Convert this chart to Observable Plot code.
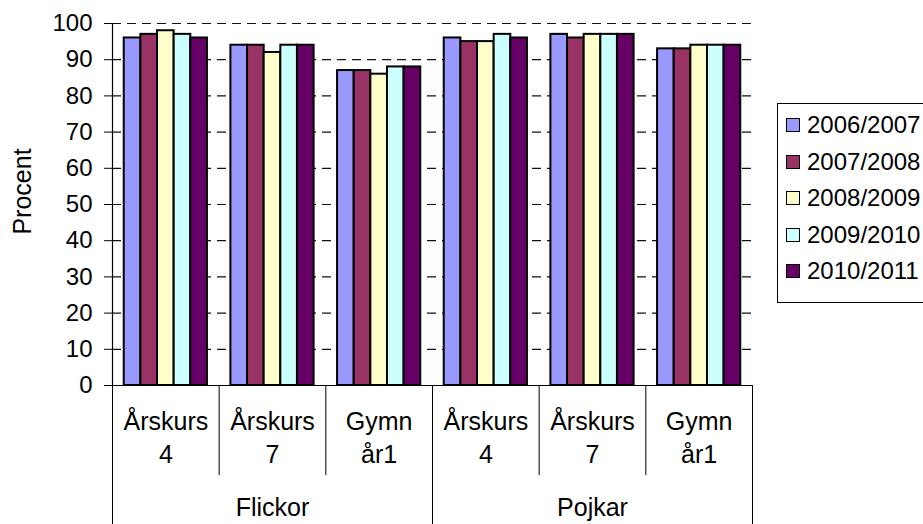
<!DOCTYPE html>
<html>
<head>
<meta charset="utf-8">
<script src="https://cdn.jsdelivr.net/npm/d3@7"></script>
<script src="https://cdn.jsdelivr.net/npm/@observablehq/plot@0.6"></script>
<style>
  html, body { margin: 0; padding: 0; background: #fff; overflow: hidden; width: 923px; height: 524px; }
  #wrap { position: relative; width: 923px; height: 524px; font-family: "Liberation Sans", Arial, sans-serif; }
  #legend { position: absolute; left: 777px; top: 103px; width: 170px; height: 200px; border: 1px solid #000; box-sizing: border-box; background: #fff; }
  .item { position: absolute; left: 8px; height: 28px; display: flex; align-items: center; font-size: 24px; white-space: nowrap; color: #000; }
  .sw { width: 14px; height: 14px; border: 1.5px solid #000; margin-right: 7px; box-sizing: border-box; }
</style>
</head>
<body>
<div id="wrap"><div id="chart"></div><div id="legend"></div></div>
<script>
// ---- data ----
const groups = ["Flickor", "Pojkar"];
const subgroups = ["Årskurs\n4", "Årskurs\n7", "Gymn\når1", "Årskurs\n4", "Årskurs\n7", "Gymn\når1"];
const subgroupParent = [0, 0, 0, 1, 1, 1];
const series = ["2006/2007", "2007/2008", "2008/2009", "2009/2010", "2010/2011"];
const v2006 = [96, 94, 87, 96, 97, 93];
const v2007 = [97, 94, 87, 95, 96, 93];
const v2008 = [98, 92, 86, 95, 97, 94];
const v2009 = [97, 94, 88, 97, 97, 94];
const v2010 = [96, 94, 88, 96, 97, 94];
const colors = ["#9999FF", "#993366", "#FFFFCC", "#CCFFFF", "#660066"];
const yTicks = [0, 10, 20, 30, 40, 50, 60, 70, 80, 90, 100];
const yLabel = "Procent";

// ---- build table ----
const seriesValues = [v2006, v2007, v2008, v2009, v2010];
const rows = [];
seriesValues.forEach((vals, s) => vals.forEach((v, g) => rows.push({g, s, year: series[s], value: v})));
const pad = 0.11, bw = 0.156;
const subRows = subgroups.map((label, i) => ({i, label}));
const groupRows = groups.map((label, k) => {
  const idx = subgroupParent.map((p, i) => p === k ? i : -1).filter(i => i >= 0);
  return {label, start: idx[0], end: idx[idx.length - 1] + 1};
});
const innerSeps = d3.range(1, subgroups.length).filter(i => subgroupParent[i] === subgroupParent[i - 1]);
const outerSeps = [0, ...groupRows.map(d => d.end)];

const chart = Plot.plot({
  width: 923,
  height: 524,
  marginLeft: 112,
  marginRight: 171,
  marginTop: 23,
  marginBottom: 139,
  style: {fontFamily: "'Liberation Sans', Arial, sans-serif", fontSize: "24px", background: "#fff", color: "#000"},
  x: {type: "linear", domain: [0, subgroups.length], axis: null},
  y: {domain: [0, 100], axis: null},
  color: {domain: series, range: colors},
  marks: [
    Plot.ruleY(yTicks.filter(t => t > 0), {stroke: "#111", strokeWidth: 1.2, strokeDasharray: "9,6"}),
    Plot.rectY(rows, {
      x1: d => d.g + pad + d.s * bw,
      x2: d => d.g + pad + (d.s + 1) * bw,
      y1: 0,
      y2: "value",
      fill: "year",
      stroke: "#000",
      strokeWidth: 2
    }),
    Plot.axisY({ticks: yTicks, tickSize: 8, tickPadding: 12, label: null, fontSize: 24}),
    Plot.ruleX([0], {stroke: "#000", strokeWidth: 1.2}),
    Plot.ruleY([0], {stroke: "#000", strokeWidth: 1.2}),
    Plot.ruleX(innerSeps, {x: d => d, y1: d => 0, y2: d => 0, insetBottom: -90, stroke: "#000", strokeWidth: 1}),
    Plot.ruleX(outerSeps, {x: d => d, y1: d => 0, y2: d => 0, insetBottom: -145, stroke: "#000", strokeWidth: 1}),
    Plot.text(subRows, {x: d => d.i + 0.5, y: d => 0, text: "label", lineAnchor: "top", dy: 21, lineHeight: 1.33, fontSize: 25, fill: "#000"}),
    Plot.text(groupRows, {x: d => (d.start + d.end) / 2, y: d => 0, text: "label", lineAnchor: "top", dy: 113, fontSize: 25, fill: "#000"}),
    Plot.text([yLabel], {frameAnchor: "left", textAnchor: "middle", dx: -90, dy: -13, rotate: -90, fontSize: 25, fill: "#000"})
  ]
});
document.getElementById("chart").appendChild(chart);

// ---- legend ----
const legend = document.getElementById("legend");
series.forEach((name, i) => {
  const item = document.createElement("div");
  item.className = "item";
  item.style.top = (7 + i * 36.5) + "px";
  const sw = document.createElement("span");
  sw.className = "sw";
  sw.style.background = colors[i];
  item.appendChild(sw);
  item.appendChild(document.createTextNode(name));
  legend.appendChild(item);
});
</script>
</body>
</html>
